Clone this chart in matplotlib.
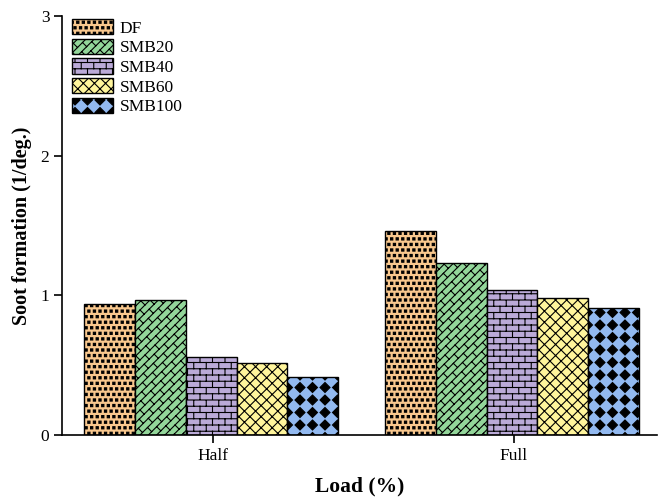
import warnings
import numpy as np
import matplotlib
matplotlib.use("Agg")
import matplotlib.pyplot as plt
from matplotlib import hatch as mhatch
from matplotlib.path import Path

warnings.filterwarnings("ignore")

# ── data ────────────────────────────────────────────────────────────────
loads = ["Half", "Full"]
fuels = ["DF", "SMB20", "SMB40", "SMB60", "SMB100"]
soot_df = [0.935, 1.46]
soot_smb20 = [0.965, 1.228]
soot_smb40 = [0.555, 1.036]
soot_smb60 = [0.513, 0.981]
soot_smb100 = [0.412, 0.911]
y_ticks = [0, 1, 2, 3]

# ── custom hatches (Origin-like fill patterns) ─────────────────────────
class SegmentHatch(mhatch.HatchPatternBase):
    """Generic hatch built from segments / closed shapes in the unit tile."""
    char = None

    def __init__(self, hatch, density):
        if self.char in hatch:
            self.verts, self.codes = self.build()
            self.num_vertices = len(self.verts)
        else:
            self.num_vertices = 0

    def set_vertices_and_codes(self, vertices, codes):
        vertices[:] = self.verts
        codes[:] = self.codes


def _segments(segs):
    segs = np.asarray(segs, float).reshape(-1, 2)
    codes = np.tile([Path.MOVETO, Path.LINETO], len(segs) // 2)
    return segs, codes


def _shapes(shape, centers, r):
    verts, codes = [], []
    for cx, cy in centers:
        verts.append(np.asarray(shape) * r + [cx, cy])
        codes.append([Path.MOVETO] + [Path.LINETO] * (len(shape) - 2) + [Path.CLOSEPOLY])
    return np.concatenate(verts), np.concatenate(codes)


class Bricks(SegmentHatch):
    char = "b"

    def build(self, n=16, m=8):
        segs = []
        for i in range(n + 1):
            segs.append([(-0.05, i / n), (1.05, i / n)])
        for i in range(n):
            for j in range(-1, m + 2):
                x = (j + 0.5 * (i % 2)) / m
                segs.append([(x, i / n), (x, (i + 1) / n)])
        return _segments(segs)


class DiagBricks(SegmentHatch):
    # bricks rotated 45 degrees: long "/" lines, short "\" joints
    char = "k"

    def build(self, n=12, m=10):
        segs = []
        for i in range(-n - 1, n + 2):
            c = i / n
            segs.append([(-0.2, -0.2 + c), (1.2, 1.2 + c)])
        h = 1 / (2 * n)
        for i in range(-n - 1, n + 1):
            c = i / n
            for j in range(-m, 2 * m):
                t = (j + 0.5 * (i % 2)) / m - i * h
                if -0.2 < t < 1.2:
                    segs.append([(t, t + c), (t - h, t + c + h)])
        return _segments(segs)


class Dots(SegmentHatch):
    char = "s"

    def build(self, n=18, r=0.011):
        sq = [(-1, -1), (1, -1), (1, 1), (-1, 1), (-1, -1)]
        centers = []
        for i in range(n + 1):
            for j in range(-1, n + 2):
                centers.append(((j + 0.5 * (i % 2)) / n, i / n))
        return _shapes(sq, centers, r)


class Diamonds(SegmentHatch):
    char = "d"

    def build(self, n=8, r=0.05):
        dm = [(0, 1), (1, 0), (0, -1), (-1, 0), (0, 1)]
        centers = [(j / n, i / n) for i in range(-1, n + 2) for j in range(-1, n + 2)]
        return _shapes(dm, centers, r)


mhatch._hatch_types.extend([Bricks, DiagBricks, Dots, Diamonds])

# ── style ──────────────────────────────────────────────────────────────
plt.rcParams["font.family"] = ["Liberation Serif", "DejaVu Serif"]
plt.rcParams["hatch.linewidth"] = 0.8
plt.rcParams["hatch.color"] = "black"

colors = ["#F9C88E", "#93D69A", "#BBAAD8", "#FFF59C", "#92B9F0"]
hatches = ["s", "k", "b", "xxx", "d"]
series = [soot_df, soot_smb20, soot_smb40, soot_smb60, soot_smb100]

fig = plt.figure(figsize=(6.66, 5.0), dpi=100)
ax = fig.add_axes([0.093, 0.13, 0.893, 0.838])

x = np.arange(len(loads))
bw = 0.169
for k, (vals, name) in enumerate(zip(series, fuels)):
    ax.bar(x + (k - 2) * bw - 0.006, vals, width=bw, color=colors[k], hatch=hatches[k],
           edgecolor="black", linewidth=1.0, label=name)

ax.set_xlim(-0.502, 1.475)
ax.set_ylim(0, 3)
ax.set_yticks(y_ticks)
ax.set_xticks(x)
ax.set_xticklabels(loads)
ax.tick_params(direction="out", length=6, width=1.2, labelsize=12.5, pad=3)
for s in ["top", "right"]:
    ax.spines[s].set_visible(False)
for s in ["left", "bottom"]:
    ax.spines[s].set_linewidth(1.2)

ax.set_xlabel("Load (%)", fontsize=15.5, fontweight="bold", labelpad=9)
ax.set_ylabel("Soot formation (1/deg.)", fontsize=14.5, fontweight="bold", labelpad=6)

ax.legend(loc="upper left", bbox_to_anchor=(0.017, 0.993), frameon=False, fontsize=12.5,
          handlelength=2.35, handleheight=0.98, labelspacing=0.12, handletextpad=0.4,
          borderpad=0, borderaxespad=0)

fig.savefig("out.png", dpi=100)
